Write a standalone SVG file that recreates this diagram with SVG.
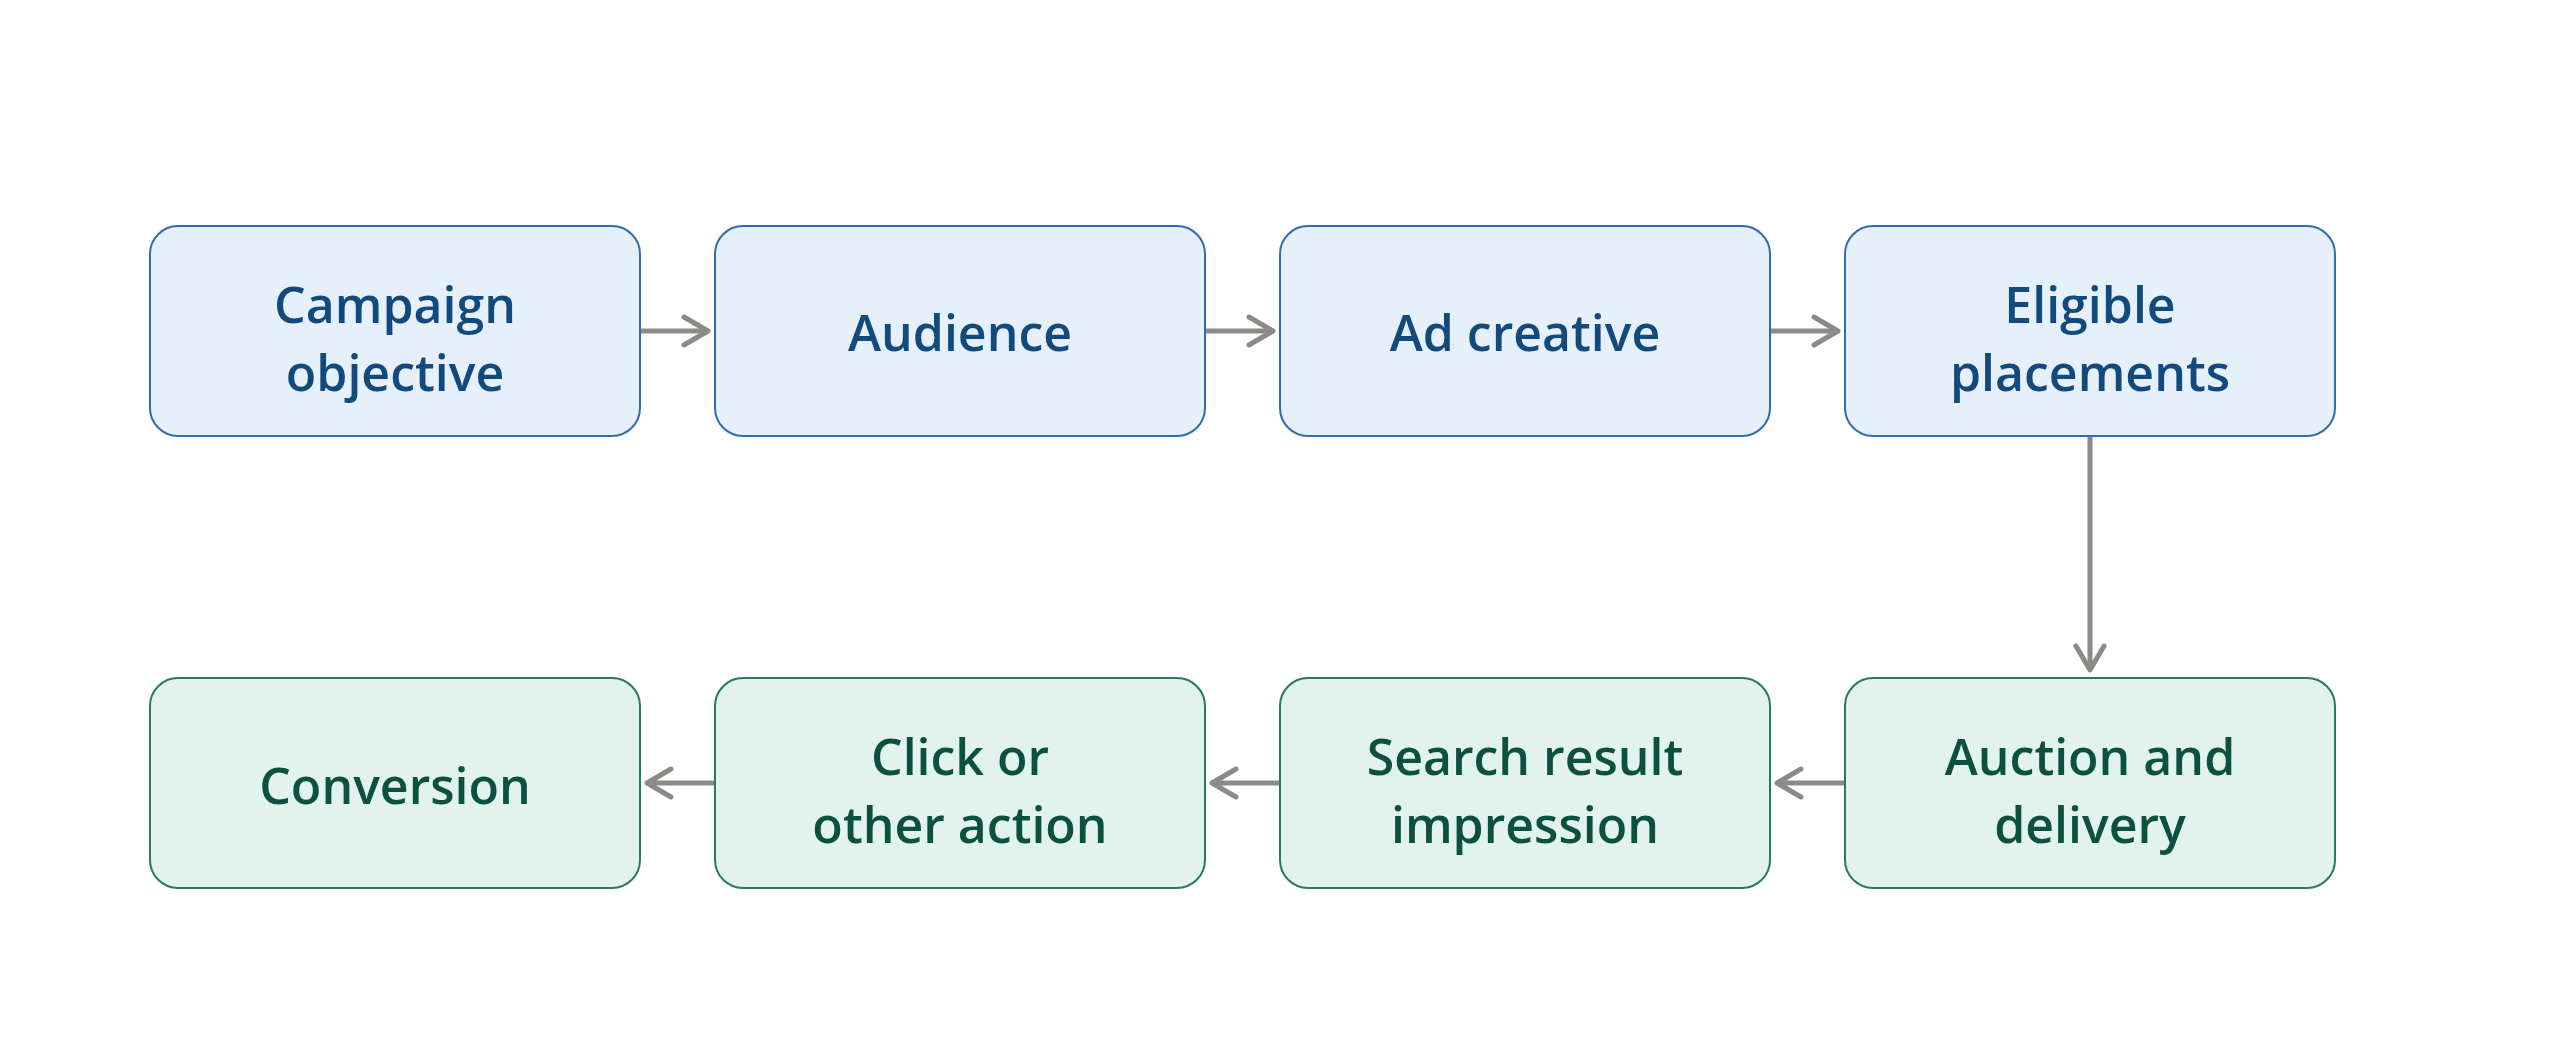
<svg xmlns="http://www.w3.org/2000/svg" width="2560" height="1054" viewBox="0 0 2560 1054">
<defs>
<style>
.top rect{fill:#E6F0FA;stroke:#2E6DB4;stroke-width:2}
.bot rect{fill:#E1F3EC;stroke:#2A7B5C;stroke-width:2}
text{font-family:"Open Sans","Noto Sans","Liberation Sans",sans-serif;font-weight:600;font-size:50px;text-anchor:middle}
.top text{fill:#124A7E}
.bot text{fill:#0C5140}
.conn line{stroke:#8A8A86;stroke-width:5;marker-end:url(#arr)}
</style>
<marker id="arr" markerUnits="userSpaceOnUse" viewBox="-34 -20 40 40" markerWidth="40" markerHeight="40" refX="0" refY="0" orient="auto">
<path d="M-24,-14 L0,0 L-24,14" fill="none" stroke="#8A8A86" stroke-width="5" stroke-linecap="round" stroke-linejoin="round"/>
</marker>
</defs>
<rect x="0" y="0" width="2560" height="1054" fill="#FFFFFF"/>
<g id="n1" class="top"><rect x="150" y="226" width="490" height="210" rx="28"/><text x="395" y="323">Campaign</text><text x="395" y="391">objective</text></g>
<g id="n2" class="top"><rect x="715" y="226" width="490" height="210" rx="28"/><text x="960" y="351">Audience</text></g>
<g id="n3" class="top"><rect x="1280" y="226" width="490" height="210" rx="28"/><text x="1525" y="351">Ad creative</text></g>
<g id="n4" class="top"><rect x="1845" y="226" width="490" height="210" rx="28"/><text x="2090" y="323">Eligible</text><text x="2090" y="391">placements</text></g>
<g id="n5" class="bot"><rect x="1845" y="678" width="490" height="210" rx="28"/><text x="2090" y="775">Auction and</text><text x="2090" y="843">delivery</text></g>
<g id="n6" class="bot"><rect x="1280" y="678" width="490" height="210" rx="28"/><text x="1525" y="775">Search result</text><text x="1525" y="843">impression</text></g>
<g id="n7" class="bot"><rect x="715" y="678" width="490" height="210" rx="28"/><text x="960" y="775">Click or</text><text x="960" y="843">other action</text></g>
<g id="n8" class="bot"><rect x="150" y="678" width="490" height="210" rx="28"/><text x="395" y="804">Conversion</text></g>
<g id="connectors" class="conn">
<line x1="641" y1="331" x2="708" y2="331"/>
<line x1="1206" y1="331" x2="1273" y2="331"/>
<line x1="1771" y1="331" x2="1838" y2="331"/>
<line x1="2090" y1="437" x2="2090" y2="670"/>
<line x1="1844" y1="783" x2="1777" y2="783"/>
<line x1="1279" y1="783" x2="1212" y2="783"/>
<line x1="714" y1="783" x2="647" y2="783"/>
</g>
</svg>
